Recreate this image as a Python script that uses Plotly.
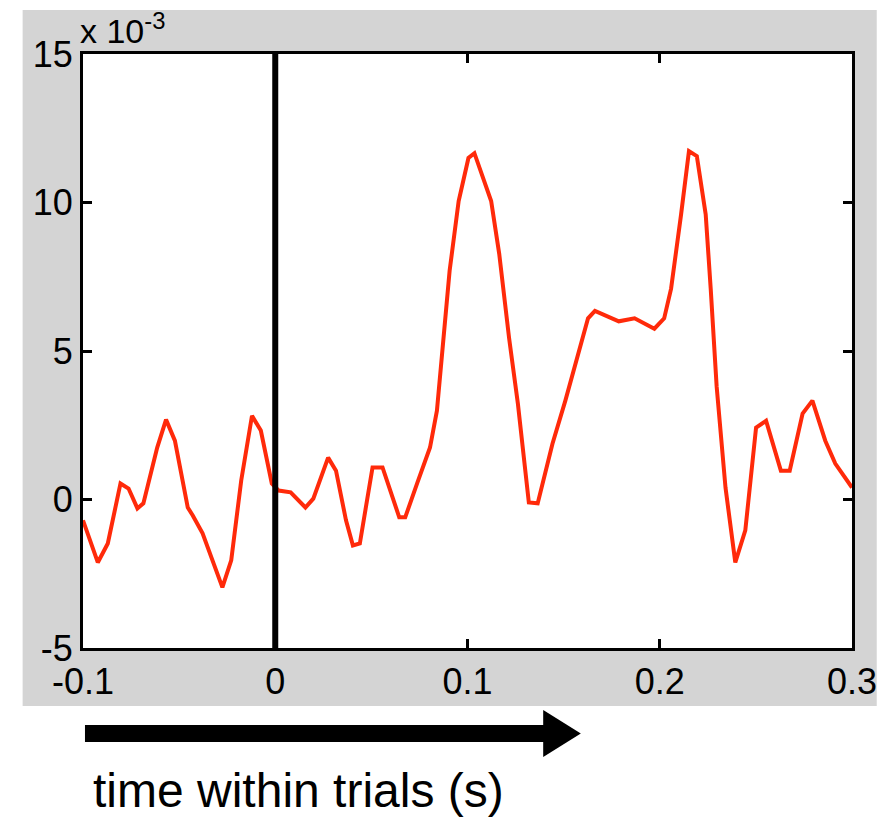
import plotly.graph_objects as go

# ---- data (amplitude in units of 1e-3) ----
time_s = [-0.1, -0.0923, -0.0871, -0.0805, -0.0763, -0.0717, -0.0686, -0.0614, -0.0568,
          -0.0522, -0.0455, -0.0429, -0.0378, -0.0275, -0.0229, -0.0177, -0.0121, -0.0075,
          -0.0018, 0.0018, 0.0080, 0.0157, 0.0198, 0.0275, 0.0316, 0.0368, 0.0404, 0.0440,
          0.0506, 0.0558, 0.0645, 0.0676, 0.0738, 0.0805, 0.0841, 0.0877, 0.0907, 0.0954,
          0.1005, 0.1036, 0.1123, 0.1165, 0.1216, 0.1262, 0.1319, 0.1365, 0.1442, 0.1509,
          0.1576, 0.1627, 0.1663, 0.1787, 0.1869, 0.1972, 0.2023, 0.2059, 0.2111, 0.2152,
          0.2193, 0.2239, 0.2265, 0.2296, 0.2342, 0.2393, 0.2445, 0.2501, 0.2553, 0.2630,
          0.2676, 0.2743, 0.2794, 0.2861, 0.2913, 0.3]
amp_e3 = [-0.7, -2.12, -1.48, 0.54, 0.37, -0.30, -0.13, 1.75, 2.69,
          1.98, -0.27, -0.54, -1.14, -2.96, -2.05, 0.64, 2.82, 2.32,
          0.54, 0.3, 0.24, -0.27, 0.03, 1.41, 0.97, -0.7, -1.55, -1.48,
          1.08, 1.08, -0.6, -0.6, 0.54, 1.75, 2.99, 5.45, 7.7, 10.05,
          11.5, 11.66, 10.05, 8.27, 5.45, 3.23, -0.1, -0.13, 1.88, 3.33,
          4.9, 6.1, 6.35, 6.0, 6.1, 5.75, 6.1, 7.1, 9.6, 11.73,
          11.56, 9.6, 7.1, 3.8, 0.4, -2.12, -1.04, 2.42, 2.65, 0.97,
          0.97, 2.89, 3.33, 1.98, 1.21, 0.4]
x_ticks = [-0.1, 0, 0.1, 0.2, 0.3]
x_tick_labels = ["-0.1", "0", "0.1", "0.2", "0.3"]
y_ticks = [-5, 0, 5, 10, 15]
y_tick_labels = ["-5", "0", "5", "10", "15"]
event_time = 0.0
x_range = [-0.1, 0.3]
y_range = [-5, 15]
axis_label = "time within trials (s)"
scale_label = "x 10<sup>-3</sup>"

# ---- layout geometry (reference pixels) ----
W, H = 889, 817
L, R, T, B = 83, 860, 54, 648


def px(x):
    return (x - L) / (R - L)


def py(y):
    return (B - y) / (B - T)


FONT = "Liberation Sans, Arial, Helvetica, sans-serif"

fig = go.Figure()
fig.add_trace(go.Scatter(x=time_s, y=amp_e3, mode="lines",
                         line=dict(color="#ff2a0a", width=4), showlegend=False,
                         hoverinfo="skip"))

fig.add_vline(x=event_time, line=dict(color="black", width=6), layer="above")

# gray figure background and white axes area
fig.add_shape(type="rect", xref="paper", yref="paper",
              x0=px(22), x1=px(885), y0=py(706), y1=py(10),
              fillcolor="#d4d4d4", line=dict(width=0), layer="below")
fig.add_shape(type="rect", xref="paper", yref="paper",
              x0=0, x1=1, y0=0, y1=1,
              fillcolor="white", line=dict(width=0), layer="below")

# arrow under the axis
fig.add_shape(type="rect", xref="paper", yref="paper",
              x0=px(85), x1=px(550), y0=py(742), y1=py(725),
              fillcolor="black", line=dict(width=0))
fig.add_shape(type="path", xref="paper", yref="paper",
              path=f"M {px(548)} {py(710)} L {px(586)} {py(733.5)} L {px(548)} {py(757)} Z",
              fillcolor="black", line=dict(width=0))

fig.add_annotation(xref="paper", yref="paper", x=px(301), y=py(790),
                   text=axis_label, showarrow=False,
                   font=dict(family=FONT, size=48, color="black"),
                   xanchor="center", yanchor="middle")
fig.add_annotation(xref="paper", yref="paper", x=px(78), y=py(29),
                   text=scale_label, showarrow=False,
                   font=dict(family=FONT, size=34, color="black"),
                   xanchor="left", yanchor="middle")

axis_common = dict(showline=True, linecolor="black", linewidth=3, mirror="ticks",
                   ticks="inside", ticklen=9, tickwidth=2.5, tickcolor="black",
                   showgrid=False, zeroline=False,
                   tickfont=dict(family=FONT, size=36, color="black"))

fig.update_xaxes(range=x_range, tickvals=x_ticks, ticktext=x_tick_labels, **axis_common)
fig.update_yaxes(range=y_range, tickvals=y_ticks, ticktext=y_tick_labels,
                 ticklabelstandoff=0, **axis_common)

fig.update_layout(width=W, height=H,
                  margin=dict(l=L, r=W - R, t=T, b=H - B),
                  paper_bgcolor="white", plot_bgcolor="white",
                  font=dict(family=FONT, color="black"))

fig.write_html("out.html",
               config={"displayModeBar": False},
               post_script="document.body.style.margin='0';"
                           "document.body.style.overflow='hidden';"
                           "document.documentElement.style.overflow='hidden';")
